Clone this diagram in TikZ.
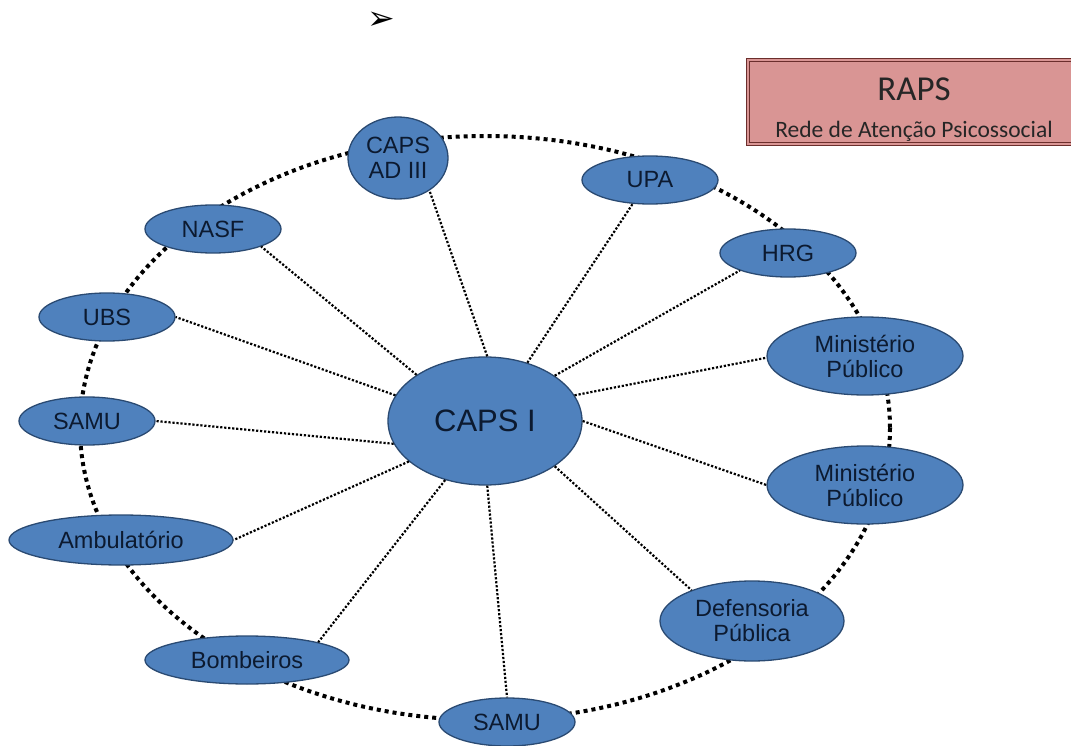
\documentclass[tikz,border=0pt]{standalone}
\usepackage{fontspec}
\setmainfont{Liberation Sans}
\newfontfamily\calfont{Carlito}
\newfontfamily\symfont{DejaVu Sans}
\usetikzlibrary{shapes.geometric}
\definecolor{nodefill}{HTML}{4F81BD}
\definecolor{nodeline}{HTML}{2A4A72}
\definecolor{nodetext}{HTML}{0C1A30}
\definecolor{rapsfill}{HTML}{D99594}
\definecolor{rapsline}{HTML}{6B2E2C}
\tikzset{
  unit/.style={ellipse, fill=nodefill, draw=nodeline, line width=1.3pt, text=nodetext,
    inner sep=0pt, align=center, font=\fontsize{23.5}{25}\selectfont},
  ring/.style={line width=4pt, dash pattern=on 4pt off 4pt, black},
  spoke/.style={line width=2.2pt, dash pattern=on 2.2pt off 1.8pt, black},
}
\begin{document}
\begin{tikzpicture}[x=1pt,y=-1pt]
\useasboundingbox (0,0) rectangle (1071,746);
% outer ring
\draw[ring] (485,428) ellipse [x radius=405, y radius=292];
% nodes
\node[unit, minimum width=194pt, minimum height=128pt, font=\fontsize{31}{34}\selectfont] (capsI) at (485,421) {CAPS I};
\node[unit, minimum width=100pt, minimum height=82pt] (capsad) at (398,158) {CAPS\\AD III};
\node[unit, minimum width=136pt, minimum height=48pt] (upa) at (650,180) {UPA};
\node[unit, minimum width=136pt, minimum height=48pt] (hrg) at (788,253) {HRG};
\node[unit, minimum width=196pt, minimum height=78pt] (mp1) at (865,356) {Ministério\\Público};
\node[unit, minimum width=196pt, minimum height=78pt] (mp2) at (865,485) {Ministério\\Público};
\node[unit, minimum width=184pt, minimum height=80pt] (def) at (752,621) {Defensoria\\Pública};
\node[unit, minimum width=136pt, minimum height=48pt] (samub) at (507,722) {SAMU};
\node[unit, minimum width=204pt, minimum height=48pt] (bomb) at (247,660) {Bombeiros};
\node[unit, minimum width=224pt, minimum height=50pt] (amb) at (121,540) {Ambulatório};
\node[unit, minimum width=136pt, minimum height=48pt] (samul) at (87,421) {SAMU};
\node[unit, minimum width=136pt, minimum height=48pt] (ubs) at (107,317) {UBS};
\node[unit, minimum width=136pt, minimum height=48pt] (nasf) at (213,229) {NASF};
% spokes
\draw[spoke] (capsI.88)  -- (capsad.-46);
\draw[spoke] (capsI.54)  -- (upa.234);
\draw[spoke] (capsI.33)  -- (hrg.200);
\draw[spoke] (capsI.16)  -- (mp1.181);
\draw[spoke] (capsI.0)   -- (mp2.180);
\draw[spoke] (capsI.-33) -- (def.153);
\draw[spoke] (capsI.-88) -- (samub.90);
\draw[spoke] (capsI.236) -- (bomb.14);
\draw[spoke] (capsI.208) -- (amb.0);
\draw[spoke] (capsI.194) -- (samul.0);
\draw[spoke] (capsI.164) -- (ubs.0);
\draw[spoke] (capsI.146) -- (nasf.-20);
% RAPS box
\node[draw=rapsline, line width=1.3pt, fill=rapsfill, minimum width=340pt, minimum height=87pt,
  inner sep=0pt, anchor=north west] (rapsbox) at (746,58) {};
\draw[rapsline, line width=0.8pt] ([shift={(3.5,3.5)}]rapsbox.north west) rectangle ([shift={(-3.5,-3.5)}]rapsbox.south east);
\node[text=black!85, font=\calfont\fontsize{35}{38}\selectfont] (raps) at (914,89) {RAPS};
\node[text=black!85, font=\calfont\fontsize{23.5}{26}\selectfont] (rede) at (914,131) {Rede de Atenção Psicossocial};
% arrow bullet
\node[font=\symfont\fontsize{33}{35}\selectfont, inner sep=0pt] (bullet) at (381,21) {➢};
\end{tikzpicture}
\end{document}
